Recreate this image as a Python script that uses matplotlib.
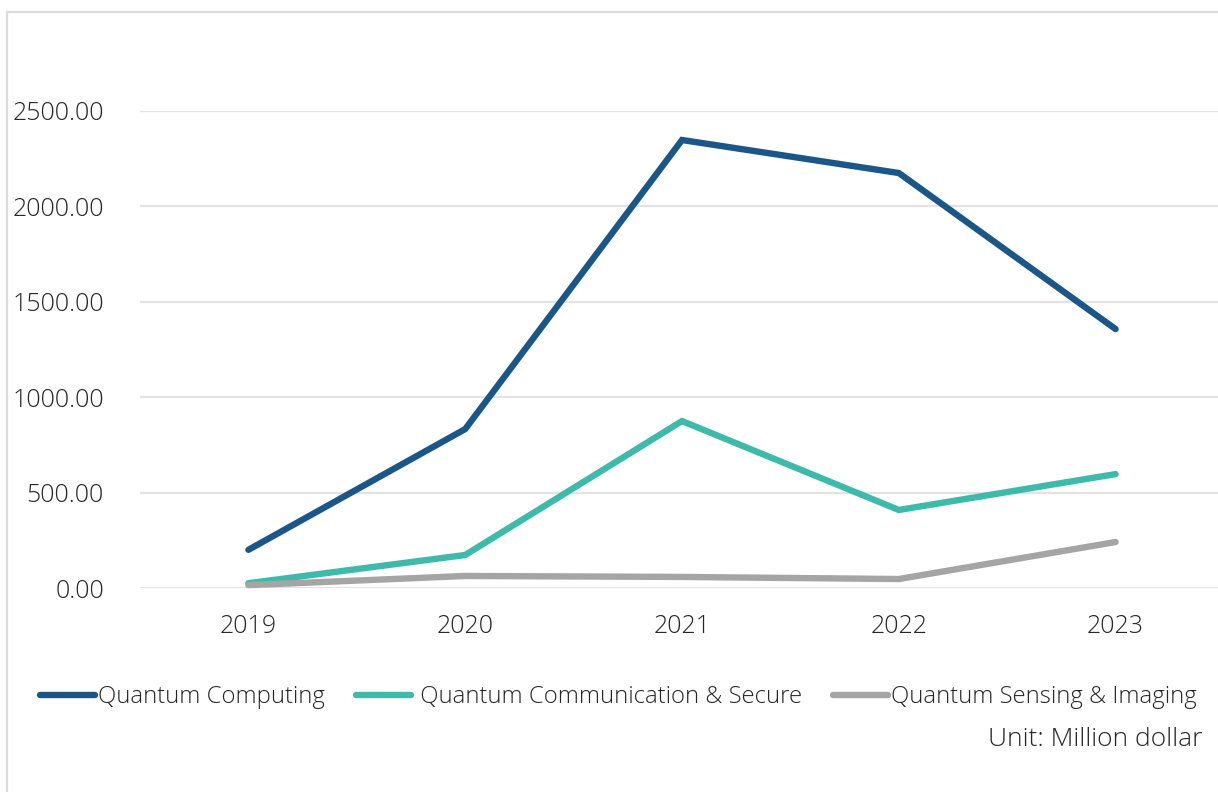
import matplotlib
matplotlib.use("Agg")
import matplotlib.pyplot as plt
from matplotlib.lines import Line2D

# --- Data (million dollar) ---
years = ["2019", "2020", "2021", "2022", "2023"]
computing = [200, 833, 2348, 2175, 1357]
communication = [25, 173, 875, 409, 597]
sensing = [15, 63, 58, 47, 241]
y_ticks = [0, 500, 1000, 1500, 2000, 2500]

series = [
    ("Quantum Computing", computing, "#1a5788"),
    (" Quantum Communication & Secure", communication, "#3dbaa9"),
    ("Quantum Sensing & Imaging", sensing, "#a5a5a5"),
]

plt.rcParams["font.family"] = ["Open Sans", "DejaVu Sans"]
TEXT = "#262626"

W, H = 1218, 792
fig = plt.figure(figsize=(W / 100, H / 100), dpi=100)

# axes in pixel terms: x from 140 to ~1224, y from 111 (2500) to 588 (0)
left, right, top, bottom = 140, 1224, 111, 588
ax = fig.add_axes([left / W, 1 - bottom / H, (right - left) / W, (bottom - top) / H])

x = list(range(len(years)))
for name, vals, color in series:
    ax.plot(x, vals, color=color, lw=4.6, solid_capstyle="round",
            solid_joinstyle="miter", label=name, clip_on=False, zorder=3)

ax.set_xlim(-0.5, len(years) - 0.5)
ax.set_ylim(0, 2500)
ax.set_yticks(y_ticks)
ax.set_yticklabels([f"{v:.2f}" for v in y_ticks])
ax.set_xticks(x)
ax.set_xticklabels(years)
ax.grid(axis="y", color="#e3e3e3", lw=1.6, zorder=0)
ax.tick_params(axis="both", length=0, labelsize=18, labelcolor=TEXT)
ax.tick_params(axis="y", pad=26)
ax.tick_params(axis="x", pad=19)
for lab in ax.get_xticklabels() + ax.get_yticklabels():
    lab.set_fontweight("light")
for s in ax.spines.values():
    s.set_visible(False)

# legend
leg = fig.legend(loc="center left", bbox_to_anchor=(40 / W, 1 - 697 / H), ncol=3,
                 frameon=False, handlelength=2.3, handletextpad=0.13,
                 columnspacing=1.3, borderpad=0, borderaxespad=0,
                 prop={"size": 17.2, "weight": "light"})
for t in leg.get_texts():
    t.set_color(TEXT)
for h in leg.legend_handles:
    h.set_linewidth(4.6)

fig.text(1203 / W, 1 - 740 / H, "Unit: Million dollar", ha="right", va="center",
         fontsize=19, fontweight="light", color=TEXT)

# light frame on left and top
fig.add_artist(Line2D([7 / W, 7 / W], [0, 1 - 12 / H], transform=fig.transFigure,
                      color="#dcdcdc", lw=1.6))
fig.add_artist(Line2D([7 / W, 1], [1 - 12 / H, 1 - 12 / H], transform=fig.transFigure,
                      color="#dcdcdc", lw=1.6))

fig.savefig("out.png", dpi=100, facecolor="white")
